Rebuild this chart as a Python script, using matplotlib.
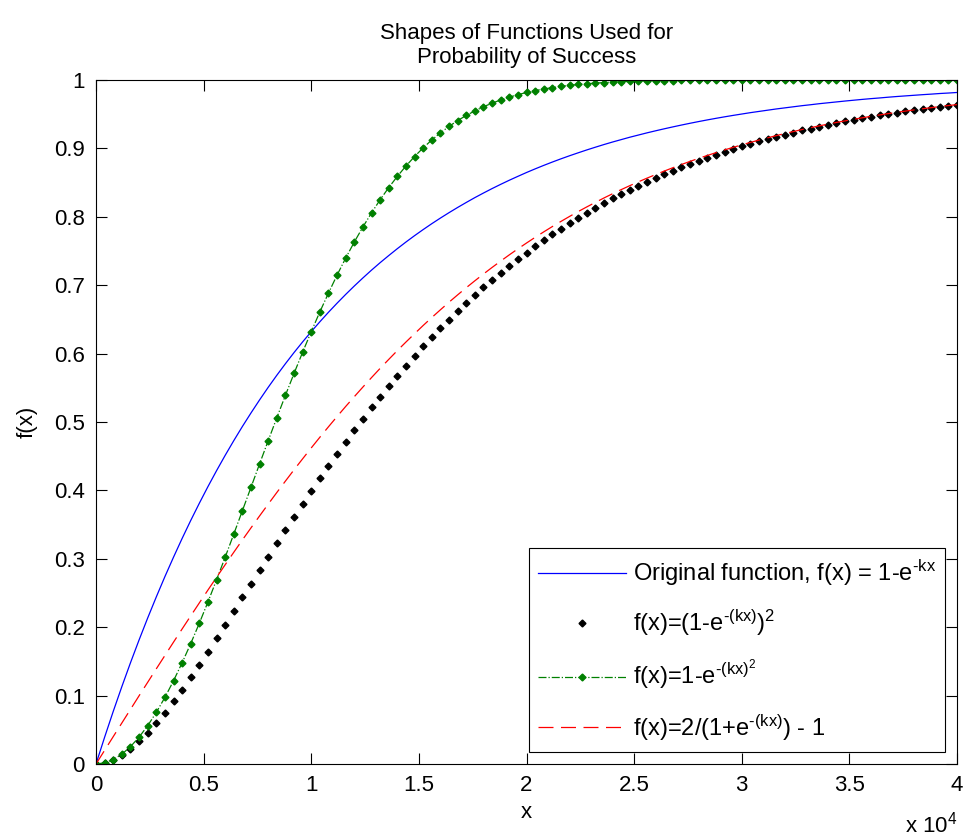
import numpy as np
import matplotlib.pyplot as plt
from matplotlib.ticker import FuncFormatter

plt.rcParams['font.family'] = ['Liberation Sans', 'DejaVu Sans']
plt.rcParams['mathtext.fontset'] = 'custom'
plt.rcParams['mathtext.rm'] = 'Liberation Sans'
plt.rcParams['mathtext.it'] = 'Liberation Sans'

# x-Werte (0 ... 4e4, Schrittweite 400)
x = np.linspace(0, 40000, 101)

f_orig = [0, 0.0392, 0.0769, 0.1131, 0.1479, 0.1813, 0.2134, 0.2442, 0.2739, 0.3023,
          0.3297, 0.3560, 0.3812, 0.4055, 0.4288, 0.4512, 0.4727, 0.4934, 0.5132, 0.5323,
          0.5507, 0.5683, 0.5852, 0.6015, 0.6171, 0.6321, 0.6465, 0.6604, 0.6737, 0.6865,
          0.6988, 0.7106, 0.7220, 0.7329, 0.7433, 0.7534, 0.7631, 0.7724, 0.7813, 0.7899,
          0.7981, 0.8060, 0.8136, 0.8209, 0.8280, 0.8347, 0.8412, 0.8474, 0.8534, 0.8591,
          0.8647, 0.8700, 0.8751, 0.8800, 0.8847, 0.8892, 0.8935, 0.8977, 0.9017, 0.9056,
          0.9093, 0.9128, 0.9163, 0.9195, 0.9227, 0.9257, 0.9286, 0.9314, 0.9341, 0.9367,
          0.9392, 0.9416, 0.9439, 0.9461, 0.9482, 0.9502, 0.9522, 0.9540, 0.9558, 0.9576,
          0.9592, 0.9608, 0.9624, 0.9638, 0.9653, 0.9666, 0.9679, 0.9692, 0.9704, 0.9716,
          0.9727, 0.9737, 0.9748, 0.9758, 0.9767, 0.9776, 0.9785, 0.9793, 0.9802, 0.9809,
          0.9817]

f_sq = [0, 0.0015, 0.0059, 0.0128, 0.0219, 0.0329, 0.0455, 0.0596, 0.0750, 0.0914,
        0.1087, 0.1267, 0.1453, 0.1644, 0.1839, 0.2036, 0.2235, 0.2434, 0.2634, 0.2834,
        0.3032, 0.3230, 0.3425, 0.3618, 0.3808, 0.3996, 0.4180, 0.4361, 0.4539, 0.4713,
        0.4883, 0.5050, 0.5212, 0.5371, 0.5526, 0.5676, 0.5823, 0.5965, 0.6104, 0.6239,
        0.6370, 0.6497, 0.6620, 0.6739, 0.6855, 0.6967, 0.7076, 0.7181, 0.7283, 0.7381,
        0.7476, 0.7569, 0.7657, 0.7743, 0.7827, 0.7907, 0.7984, 0.8059, 0.8131, 0.8201,
        0.8268, 0.8333, 0.8395, 0.8456, 0.8514, 0.8570, 0.8624, 0.8676, 0.8726, 0.8774,
        0.8821, 0.8866, 0.8909, 0.8950, 0.8990, 0.9029, 0.9066, 0.9102, 0.9136, 0.9169,
        0.9201, 0.9232, 0.9262, 0.9290, 0.9317, 0.9344, 0.9369, 0.9393, 0.9417, 0.9439,
        0.9461, 0.9482, 0.9502, 0.9521, 0.9540, 0.9558, 0.9575, 0.9591, 0.9607, 0.9622,
        0.9637]

f_gauss = [0, 0.0016, 0.0064, 0.0143, 0.0253, 0.0392, 0.0560, 0.0754, 0.0973, 0.1216,
           0.1479, 0.1760, 0.2058, 0.2369, 0.2692, 0.3023, 0.3361, 0.3703, 0.4045, 0.4388,
           0.4727, 0.5062, 0.5390, 0.5710, 0.6021, 0.6321, 0.6610, 0.6885, 0.7148, 0.7396,
           0.7631, 0.7851, 0.8057, 0.8249, 0.8427, 0.8591, 0.8742, 0.8881, 0.9008, 0.9123,
           0.9227, 0.9321, 0.9406, 0.9481, 0.9548, 0.9608, 0.9661, 0.9708, 0.9749, 0.9785,
           0.9817, 0.9844, 0.9868, 0.9888, 0.9906, 0.9921, 0.9934, 0.9945, 0.9954, 0.9962,
           0.9969, 0.9974, 0.9979, 0.9983, 0.9986, 0.9988, 0.9991, 0.9992, 0.9994, 0.9995,
           0.9996, 0.9997, 0.9998, 0.9998, 0.9999, 1.0, 1.0, 1.0, 1.0, 1.0,
           1.0, 1.0, 1.0, 1.0, 1.0, 1.0, 1.0, 1.0, 1.0, 1.0,
           1.0, 1.0, 1.0, 1.0, 1.0, 1.0, 1.0, 1.0, 1.0, 1.0,
           1.0]

f_logist = [0, 0.0200, 0.0400, 0.0599, 0.0798, 0.0997, 0.1194, 0.1391, 0.1586, 0.1781,
            0.1974, 0.2165, 0.2355, 0.2543, 0.2729, 0.2913, 0.3095, 0.3275, 0.3452, 0.3627,
            0.3799, 0.3969, 0.4136, 0.4301, 0.4462, 0.4621, 0.4777, 0.4930, 0.5080, 0.5227,
            0.5370, 0.5511, 0.5649, 0.5784, 0.5915, 0.6044, 0.6169, 0.6291, 0.6411, 0.6527,
            0.6640, 0.6751, 0.6858, 0.6963, 0.7064, 0.7163, 0.7259, 0.7352, 0.7443, 0.7531,
            0.7616, 0.7699, 0.7779, 0.7857, 0.7932, 0.8005, 0.8076, 0.8144, 0.8210, 0.8275,
            0.8337, 0.8397, 0.8455, 0.8511, 0.8565, 0.8617, 0.8668, 0.8717, 0.8764, 0.8810,
            0.8854, 0.8896, 0.8937, 0.8977, 0.9015, 0.9051, 0.9087, 0.9121, 0.9154, 0.9186,
            0.9217, 0.9246, 0.9275, 0.9302, 0.9329, 0.9354, 0.9379, 0.9402, 0.9425, 0.9447,
            0.9468, 0.9488, 0.9508, 0.9527, 0.9545, 0.9562, 0.9579, 0.9595, 0.9611, 0.9626,
            0.9640]

fig = plt.figure(figsize=(9.65, 8.4), dpi=100)
ax = fig.add_axes([0.0995, 0.0905, 0.8922, 0.8143])

ax.plot(x, f_orig, '-', color='#0000ff', lw=0.9,
        label='Original function, f(x) = 1-e$^{\\mathregular{\\text{-}kx}}$')
ax.plot(x, f_sq, 'D', color='black', ms=3.5, ls='none',
        label='f(x)=(1-e$^{\\mathregular{\\text{-}(kx)}}$)$^{\\mathregular{2}}$')
ax.plot(x, f_gauss, '-.', color='#008000', lw=0.9, marker='D', ms=3.5,
        label='f(x)=1-e$^{\\mathregular{\\text{-}(kx)^2}}$')
ax.plot(x, f_logist, '--', color='#ff0000', lw=0.9, dashes=(12, 6),
        label='f(x)=2/(1+e$^{\\mathregular{\\text{-}(kx)}}$) - 1')

ax.set_xlim(0, 40000)
ax.set_ylim(0, 1)
ax.set_xticks(np.arange(0, 40001, 5000))
ax.set_yticks(np.arange(0, 1.01, 0.1))
ax.xaxis.set_major_formatter(FuncFormatter(lambda v, p: '%g' % (v / 1e4)))
ax.yaxis.set_major_formatter(FuncFormatter(lambda v, p: '%g' % round(v, 1)))
ax.tick_params(direction='in', length=8, top=True, right=True, labelsize=16, pad=8)

ax.set_xlabel('x', fontsize=16, labelpad=4)
ax.set_ylabel('f(x)', fontsize=16, labelpad=12)
ax.set_title('Shapes of Functions Used for\nProbability of Success', fontsize=16, pad=12)
ax.text(1.0, -0.07, 'x 10$^{\\mathregular{4}}$', transform=ax.transAxes,
        fontsize=16, ha='right', va='top')

leg = ax.legend(loc='lower right', fontsize=17, handlelength=3.7, handletextpad=0.3,
                labelspacing=0.85, fancybox=False, edgecolor='black', framealpha=1,
                borderaxespad=0.5)
leg.get_frame().set_linewidth(0.8)

plt.savefig('out.png', dpi=100)
